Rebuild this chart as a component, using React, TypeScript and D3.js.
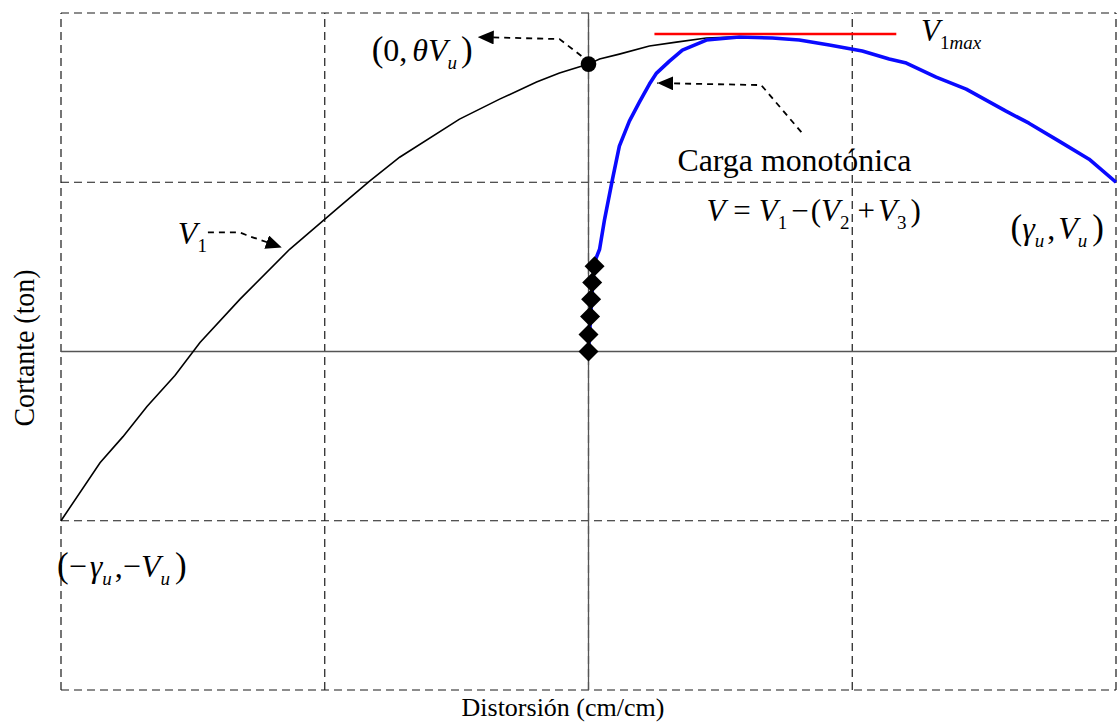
import * as d3 from "d3";

const WIDTH = 1117;
const HEIGHT = 723;
const SERIF = "'Liberation Serif', 'Times New Roman', serif";

// grid lines (data units)
const gridX = [-2, -1, 0, 1, 2];
const gridY = [-2, -1, 0, 1, 2];

// V1 curve (black)
const v1X = [-2.0, -1.852, -1.765, -1.674, -1.568, -1.473, -1.322, -1.133, -0.943, -0.83, -0.716, -0.489, -0.337, -0.197, -0.11, 0, 0.042, 0.117, 0.231, 0.333, 0.447, 0.545];
const v1Y = [-1.0, -0.657, -0.503, -0.325, -0.142, 0.053, 0.308, 0.604, 0.858, 1.006, 1.148, 1.373, 1.491, 1.592, 1.645, 1.698, 1.728, 1.757, 1.805, 1.828, 1.852, 1.858];

// carga monotonica (blue)
const monoX = [0, 0.004, 0.008, 0.012, 0.016, 0.024, 0.042, 0.061, 0.091, 0.117, 0.155, 0.193, 0.231, 0.258, 0.307, 0.356, 0.447, 0.572, 0.697, 0.799, 0.913, 1.038, 1.14, 1.205, 1.318, 1.432, 1.583, 1.67, 1.784, 1.898, 2.0];
const monoY = [0, 0.101, 0.207, 0.308, 0.408, 0.533, 0.604, 0.781, 1.018, 1.213, 1.361, 1.473, 1.58, 1.645, 1.716, 1.781, 1.84, 1.858, 1.852, 1.84, 1.811, 1.775, 1.728, 1.704, 1.621, 1.55, 1.42, 1.349, 1.243, 1.136, 1.0];

// diamonds near the origin
const diaX = [0, 0, 0.006, 0.01, 0.014, 0.023];
const diaY = [0, 0.101, 0.207, 0.308, 0.408, 0.503];

// V1max reference line
const v1maxX = [0.25, 1.167];
const v1maxY = 1.876;

// point (0, theta Vu)
const thetaPoint = [0, 1.698];

// dashed annotation arrows
const thetaArrow: [number, number][] = [[-0.027, 1.746], [-0.11, 1.846], [-0.42, 1.858]];
const cargaArrow: [number, number][] = [[0.807, 1.296], [0.655, 1.574], [0.261, 1.586]];
const v1Arrow: [number, number][] = [[-1.443, 0.704], [-1.333, 0.704], [-1.284, 0.68], [-1.163, 0.615]];

const x = d3.scaleLinear().domain([-2, 2]).range([61, 1116]);
const y = d3.scaleLinear().domain([-2, 2]).range([690, 13]);

const line = d3
  .line<[number, number]>()
  .x((d) => x(d[0]))
  .y((d) => y(d[1]));

const smooth = d3
  .line<[number, number]>()
  .x((d) => x(d[0]))
  .y((d) => y(d[1]))
  .curve(d3.curveMonotoneX);

const zip = (xs: number[], ys: number[]): [number, number][] =>
  xs.map((v, i) => [v, ys[i]]);

const SUB = 19;

export default function App() {
  const diamond = (cx: number, cy: number, r = 10) =>
    `M${cx},${cy - r}L${cx + r},${cy}L${cx},${cy + r}L${cx - r},${cy}Z`;

  return (
    <div style={{ position: "absolute", left: 0, top: 0 }}>
      <svg width={WIDTH} height={HEIGHT} style={{ display: "block", background: "#fff" }}>
        <defs>
          <marker
            id="head"
            viewBox="0 0 16 14"
            refX="16"
            refY="7"
            markerWidth="16"
            markerHeight="14"
            markerUnits="userSpaceOnUse"
            orient="auto"
          >
            <path d="M0,0L16,7L0,14Z" fill="#000" />
          </marker>
        </defs>

        {/* dashed grid */}
        <g stroke="#1a1a1a" strokeWidth={1.2} strokeDasharray="8,5" fill="none">
          {gridX.map((g) => (
            <line key={"gx" + g} x1={Math.min(x(g), 1116.4)} x2={Math.min(x(g), 1116.4)} y1={y(-2)} y2={y(2)} />
          ))}
          {gridY.map((g) => (
            <line key={"gy" + g} x1={x(-2)} x2={x(2)} y1={y(g)} y2={y(g)} />
          ))}
        </g>

        {/* axes */}
        <g stroke="#555" strokeWidth={1.3}>
          <line x1={x(-2)} x2={x(2)} y1={y(0)} y2={y(0)} />
          <line x1={x(0)} x2={x(0)} y1={y(-2)} y2={y(2)} />
        </g>

        {/* V1 curve */}
        <path d={line(zip(v1X, v1Y)) ?? ""} fill="none" stroke="#000" strokeWidth={1.6} />

        {/* monotonic load curve */}
        <path d={line(zip(monoX, monoY)) ?? ""} fill="none" stroke="#0a0aff" strokeWidth={3.6} strokeLinejoin="round" />

        {/* V1max line */}
        <line x1={x(v1maxX[0])} x2={x(v1maxX[1])} y1={y(v1maxY)} y2={y(v1maxY)} stroke="#ff0000" strokeWidth={2.6} />

        {/* diamonds */}
        {diaX.map((d, i) => (
          <path key={"d" + i} d={diamond(x(d), y(diaY[i]))} fill="#000" />
        ))}

        {/* point (0, theta Vu) */}
        <circle cx={x(thetaPoint[0])} cy={y(thetaPoint[1])} r={7.8} fill="#000" />

        {/* annotation arrows */}
        <g fill="none" stroke="#000" strokeWidth={1.8} strokeDasharray="6,5">
          <path d={line(thetaArrow) ?? ""} markerEnd="url(#head)" />
          <path d={line(cargaArrow) ?? ""} markerEnd="url(#head)" />
          <path d={smooth(v1Arrow) ?? ""} markerEnd="url(#head)" />
        </g>

        {/* labels */}
        <g fontFamily={SERIF} fill="#000">
          {/* (0, theta Vu) */}
          <text x={x(-0.822)} y={y(1.716)} fontSize={32}>
            <tspan fontSize={35}>(</tspan>
            <tspan>0,</tspan>
            <tspan dx={5} fontStyle="italic">θV</tspan>
            <tspan fontSize={SUB} fontStyle="italic" dy={8}>u</tspan>
            <tspan dy={-8} dx={4} fontSize={35}>)</tspan>
          </text>

          {/* V1max */}
          <text x={x(1.261)} y={y(1.834)} fontSize={31}>
            <tspan fontStyle="italic">V</tspan>
            <tspan fontSize={SUB} dy={8}>1</tspan>
            <tspan fontSize={SUB} fontStyle="italic">max</tspan>
          </text>

          {/* Carga monotonica */}
          <text x={x(0.337)} y={y(1.065)} fontSize={32} textLength={234} lengthAdjust="spacingAndGlyphs">
            Carga monotónica
          </text>

          {/* V = V1 - (V2 + V3) */}
          <text x={x(0.447)} y={y(0.769)} fontSize={31}>
            <tspan fontStyle="italic">V</tspan>
            <tspan dx={8}>=</tspan>
            <tspan dx={8} fontStyle="italic">V</tspan>
            <tspan fontSize={SUB} dy={8}>1</tspan>
            <tspan dy={-8} dx={4}>−</tspan>
            <tspan dx={2}>(</tspan>
            <tspan fontStyle="italic">V</tspan>
            <tspan fontSize={SUB} dy={8}>2</tspan>
            <tspan dy={-8} dx={8}>+</tspan>
            <tspan dx={3} fontStyle="italic">V</tspan>
            <tspan fontSize={SUB} dy={8}>3</tspan>
            <tspan dy={-8} dx={4}>)</tspan>
          </text>

          {/* (gamma u, Vu) */}
          <text x={x(1.6)} y={y(0.663)} fontSize={32}>
            <tspan fontSize={35}>(</tspan>
            <tspan fontStyle="italic">γ</tspan>
            <tspan fontSize={SUB} fontStyle="italic" dy={8}>u</tspan>
            <tspan dy={-8} dx={3}>,</tspan>
            <tspan dx={3} fontStyle="italic">V</tspan>
            <tspan fontSize={SUB} fontStyle="italic" dy={8}>u</tspan>
            <tspan dy={-8} dx={5} fontSize={35}>)</tspan>
          </text>

          {/* (-gamma u, -Vu) */}
          <text x={x(-2.015)} y={y(-1.331)} fontSize={32}>
            <tspan fontSize={35}>(</tspan>
            <tspan>−</tspan>
            <tspan dx={3} fontStyle="italic">γ</tspan>
            <tspan fontSize={SUB} fontStyle="italic" dy={8}>u</tspan>
            <tspan dy={-8} dx={3}>,−</tspan>
            <tspan fontStyle="italic">V</tspan>
            <tspan fontSize={SUB} fontStyle="italic" dy={8}>u</tspan>
            <tspan dy={-8} dx={5} fontSize={35}>)</tspan>
          </text>

          {/* V1 */}
          <text x={x(-1.557)} y={y(0.633)} fontSize={32}>
            <tspan fontStyle="italic">V</tspan>
            <tspan fontSize={SUB} dy={8}>1</tspan>
          </text>

          {/* axis titles */}
          <text x={563} y={716} fontSize={26} textAnchor="middle">
            Distorsión (cm/cm)
          </text>
          <text
            transform={`translate(34, 348) rotate(-90)`}
            fontSize={30}
            textAnchor="middle"
            textLength={157}
            lengthAdjust="spacingAndGlyphs"
          >
            Cortante (ton)
          </text>
        </g>
      </svg>
    </div>
  );
}
